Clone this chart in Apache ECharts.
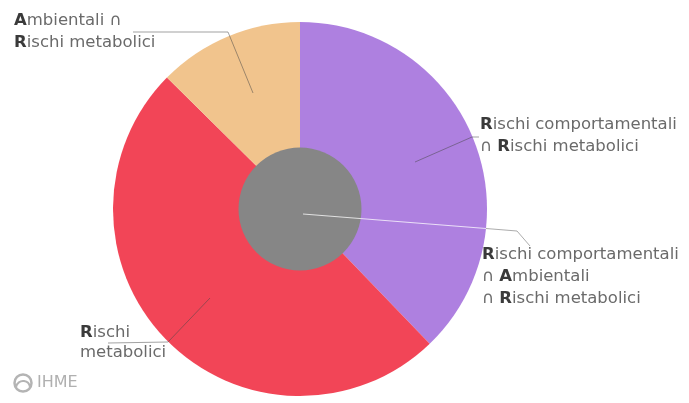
<!DOCTYPE html>
<html>
<head>
<meta charset="utf-8">
<script src="https://cdn.jsdelivr.net/npm/echarts@6/dist/echarts.min.js"></script>
<style>html,body{margin:0;padding:0;background:#fff;}#c{width:689px;height:403px;}</style>
</head>
<body>
<div id="c"></div>
<script>
// ---- data ----
var ringNames = ['Rischi comportamentali ∩ Rischi metabolici', 'Rischi metabolici', 'Ambientali ∩ Rischi metabolici'];
var ringValues = [37.8, 49.6, 12.6];
var ringColors = ['#ae80e0', '#f24557', '#f1c48d'];
var centerName = 'Rischi comportamentali ∩ Ambientali ∩ Rischi metabolici';
var centerValue = [100];
var centerColor = '#868686';

// label text lines: each line is list of [bold?, text]
var ringLabelLines = [
  [[[1,'R'],[0,'ischi comportamentali']], [[0,'∩ '],[1,'R'],[0,'ischi metabolici']]],
  [[[1,'R'],[0,'ischi']], [[0,'metabolici']]],
  [[[1,'A'],[0,'mbientali ∩']], [[1,'R'],[0,'ischi metabolici']]]
];
var centerLabelLines = [[[1,'R'],[0,'ischi comportamentali']], [[0,'∩ '],[1,'A'],[0,'mbientali']], [[0,'∩ '],[1,'R'],[0,'ischi metabolici']]];

function rich(lines){
  return lines.map(function(l){
    return l.map(function(p){ return '{' + (p[0] ? 'b' : 'n') + '|' + p[1] + '}'; }).join('');
  }).join('\n');
}

// ---- layout (style) ----
var ringLabelPos = [
  {x: 480, y: 136, line: [[415,162],[472,137],[479,137]], lh: 22},
  {x: 80, y: 343, line: [[210,298],[168,342],[108,343]], lh: 20},
  {x: 14, y: 32, line: [[253,93],[228,32],[133,32]], lh: 22}
];
var centerLabelPos = {x: 482, y: 277};
var centerLineInner = [[303,214],[486,228.5]];
var centerLineOuter = [[486,228.5],[517,231],[530,246]];

function richStyles(lh){
  return {
    b: {fontFamily: 'DejaVu Sans', fontSize: 16.5, fontWeight: 'bold', color: '#3a3a3a', lineHeight: lh},
    n: {fontFamily: 'DejaVu Sans', fontSize: 16.5, color: '#6a6a6a', lineHeight: lh}
  };
}

var guideLines = ringLabelPos.map(function(c){
  return {type: 'polyline', z: 100, silent: true, shape: {points: c.line},
    style: {fill: 'none', stroke: 'rgba(70,70,70,0.5)', lineWidth: 1}};
});
guideLines.push({type: 'polyline', z: 100, silent: true, shape: {points: centerLineInner},
  style: {fill: 'none', stroke: 'rgba(255,255,255,0.75)', lineWidth: 1}});
guideLines.push({type: 'polyline', z: 100, silent: true, shape: {points: centerLineOuter},
  style: {fill: 'none', stroke: 'rgba(70,70,70,0.45)', lineWidth: 1}});

var chart = echarts.init(document.getElementById('c'), null, {renderer: 'canvas'});
chart.setOption({
  animation: false,
  backgroundColor: '#ffffff',
  series: [
    {
      type: 'pie',
      center: [300, 209],
      radius: [0, 187],
      startAngle: 90,
      clockwise: true,
      silent: true,
      data: ringNames.map(function(n, i){
        return {
          name: n, value: ringValues[i],
          itemStyle: {color: ringColors[i]},
          label: {
            formatter: rich(ringLabelLines[i]),
            rich: richStyles(ringLabelPos[i].lh)
          }
        };
      }),
      label: {show: true, position: 'outside', overflow: 'none', alignTo: 'none'},
      labelLine: {show: false},
      labelLayout: function(p){
        var c = ringLabelPos[p.dataIndex];
        return {x: c.x, y: c.y, align: 'left', verticalAlign: 'middle'};
      }
    },
    {
      type: 'pie',
      center: [300, 209],
      radius: [0, 61.5],
      silent: true,
      data: [{name: centerName, value: centerValue[0], itemStyle: {color: centerColor},
        label: {formatter: rich(centerLabelLines), rich: richStyles(22)}}],
      label: {show: true, position: 'outside', overflow: 'none', alignTo: 'none'},
      labelLine: {show: false},
      labelLayout: function(p){
        var c = centerLabelPos;
        return {x: c.x, y: c.y, align: 'left', verticalAlign: 'middle'};
      }
    }
  ],
  graphic: guideLines.concat([
    {type: 'circle', shape: {cx: 23, cy: 383, r: 8.5}, style: {fill: 'none', stroke: '#b4b4b4', lineWidth: 2.5}},
    {type: 'arc', shape: {cx: 23, cy: 388, r: 7, startAngle: Math.PI*1.05, endAngle: Math.PI*1.95}, style: {fill: 'none', stroke: '#b4b4b4', lineWidth: 2}},
    {type: 'text', x: 37, y: 383, style: {text: 'IHME', fontFamily: 'DejaVu Sans', fontSize: 16, fill: '#b0b0b0', textVerticalAlign: 'middle'}}
  ])
});
</script>
</body>
</html>
